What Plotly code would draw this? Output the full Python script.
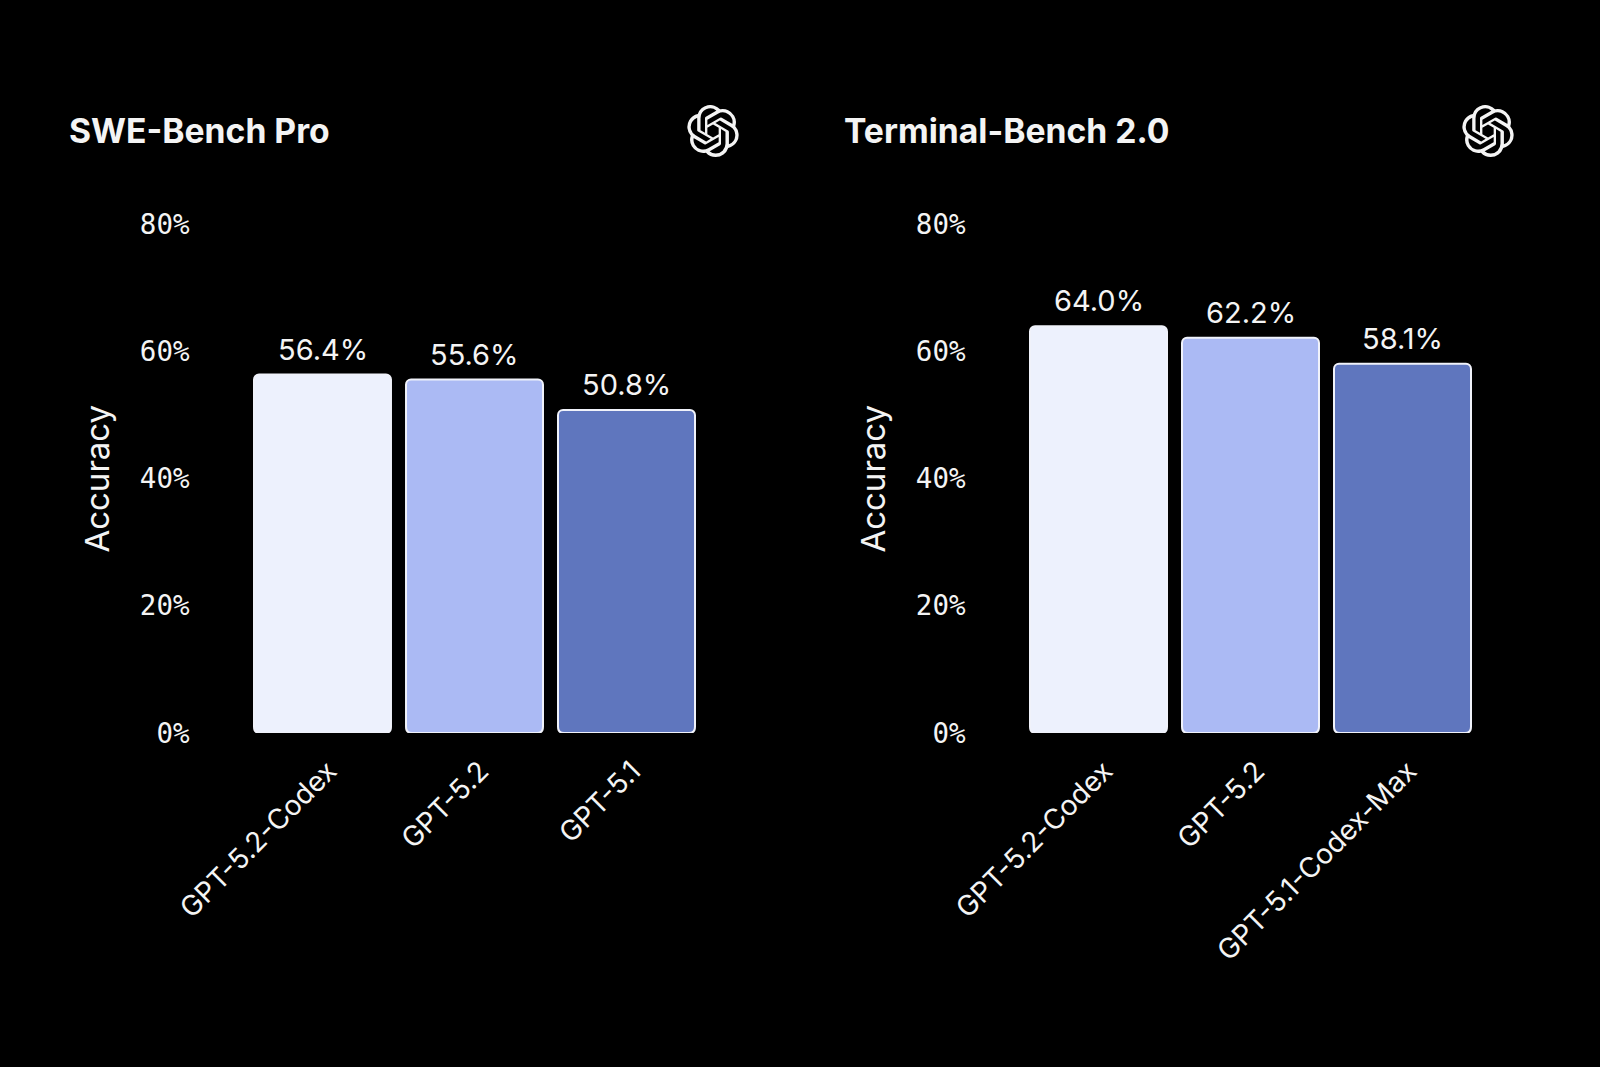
import base64
import plotly.graph_objects as go

# values
swe_models = ["GPT-5.2-Codex", "GPT-5.2", "GPT-5.1"]
swe_accuracy = [56.4, 55.6, 50.8]
term_models = ["GPT-5.2-Codex", "GPT-5.2", "GPT-5.1-Codex-Max"]
term_accuracy = [64.0, 62.2, 58.1]
bar_colors = ["#EDF1FD", "#ABBAF4", "#5F76BE"]
y_ticks = [0, 20, 40, 60, 80]
y_tick_labels = ["0%", "20%", "40%", "60%", "80%"]

W, H = 1600, 1067
TEXT = "#F4F4F4"
EDGE = "#F0F2FA"
GAP = 0.099

# OpenAI logo as inline svg
LOGO = (
    "M22.2819 9.8211a5.9847 5.9847 0 0 0-.5157-4.9108 6.0462 6.0462 0 0 0-6.5098-2.9A6.0651 6.0651 0 0 0 4.9807 4.1818"
    "a5.9847 5.9847 0 0 0-3.9977 2.9 6.0462 6.0462 0 0 0 .7427 7.0966 5.98 5.98 0 0 0 .511 4.9107 6.051 6.051 0 0 0 6.5146 2.9001"
    "A5.9847 5.9847 0 0 0 13.2599 24a6.0557 6.0557 0 0 0 5.7718-4.2058 5.9894 5.9894 0 0 0 3.9977-2.9001 6.0557 6.0557 0 0 0-.7475-7.0729z"
    "m-9.022 12.6081a4.4755 4.4755 0 0 1-2.8764-1.0408l.1419-.0804 4.7783-2.7582a.7948.7948 0 0 0 .3927-.6813v-6.7369l2.02 1.1686"
    "a.071.071 0 0 1 .038.052v5.5826a4.504 4.504 0 0 1-4.4945 4.4944zm-9.6607-4.1254a4.4708 4.4708 0 0 1-.5346-3.0137l.142.0852 4.783 2.7582"
    "a.7712.7712 0 0 0 .7806 0l5.8428-3.3685v2.3324a.0804.0804 0 0 1-.0332.0615L9.74 19.9502a4.4992 4.4992 0 0 1-6.1408-1.6464z"
    "M2.3408 7.8956a4.485 4.485 0 0 1 2.3655-1.9728V11.6a.7664.7664 0 0 0 .3879.6765l5.8144 3.3543-2.0201 1.1685a.0757.0757 0 0 1-.071 0"
    "l-4.8303-2.7865A4.504 4.504 0 0 1 2.3408 7.872zm16.5963 3.8558L13.1038 8.364 15.1192 7.2a.0757.0757 0 0 1 .071 0l4.8303 2.7913"
    "a4.4944 4.4944 0 0 1-.6765 8.1042v-5.6772a.79.79 0 0 0-.407-.667zm2.0107-3.0231l-.142-.0852-4.7735-2.7818a.7759.7759 0 0 0-.7854 0"
    "L9.409 9.2297V6.8974a.0662.0662 0 0 1 .0284-.0615l4.8303-2.7866a4.4992 4.4992 0 0 1 6.6802 4.66zM8.3065 12.863l-2.02-1.1638"
    "a.0804.0804 0 0 1-.038-.0567V6.0742a4.4992 4.4992 0 0 1 7.3757-3.4537l-.142.0805L8.704 5.459a.7948.7948 0 0 0-.3927.6813z"
    "m1.0976-2.3654l2.602-1.4998 2.6069 1.4998v2.9994l-2.5974 1.4997-2.6067-1.4997Z"
)
svg = f'<svg xmlns="http://www.w3.org/2000/svg" viewBox="0 0 24 24"><path fill="#F4F4F4" d="{LOGO}"/></svg>'
logo_uri = "data:image/svg+xml;base64," + base64.b64encode(svg.encode()).decode()

fig = go.Figure()
annotations = []
shapes = []


def add_bars(models, values, xaxis):
    yaxis = xaxis.replace("x", "y")
    fig.add_trace(go.Bar(
        x=models,
        y=values,
        xaxis=xaxis,
        yaxis=yaxis,
        marker=dict(color=bar_colors, line=dict(color=EDGE, width=2), cornerradius=5),
        cliponaxis=False,
        hoverinfo="x+y",
    ))
    for i, (m, v) in enumerate(zip(models, values)):
        # value label above the bar
        annotations.append(dict(
            text=f"{v:.1f}%", x=m, y=v, xref=xaxis, yref=yaxis, yanchor="bottom",
            yshift=6, showarrow=False, font=dict(family="Inter", size=29, color=TEXT),
        ))
        # plotly only rounds the top of a bar, so round the bottom corners by hand
        for side in (-1, 1):
            common = dict(type="path", xref=xaxis, yref=yaxis, xsizemode="pixel", ysizemode="pixel",
                          xanchor=i + side * (1 - GAP) / 2, yanchor=0, layer="above")
            shapes.append(dict(common, path=f"M {side * 2} -2 L {-side * 6} -2 L {-side * 6} 0 Q 0 0 0 6 L {side * 2} 6 Z",
                               fillcolor="#000000", line=dict(width=0)))
            shapes.append(dict(common, path=f"M {-side * 6} 0 Q 0 0 0 6",
                               line=dict(color=EDGE, width=2)))


add_bars(swe_models, swe_accuracy, "x")
add_bars(term_models, term_accuracy, "x2")


def x_axis(left, right):
    return dict(
        domain=[left / W, right / W],
        type="category",
        showgrid=False, zeroline=False, showline=False, ticks="",
        tickangle=-45,
        tickfont=dict(family="Inter", size=28, color=TEXT),
        ticklabelstandoff=15,
        ticklabelshift=6,
        automargin=False,
    )


def y_axis(anchor):
    return dict(
        domain=[(H - 733) / H, (H - 224.5) / H],
        range=[0, 80],
        anchor=anchor,
        tickmode="array",
        tickvals=y_ticks,
        ticktext=y_tick_labels,
        tickfont=dict(family="DejaVu Sans Mono", size=27.5, color=TEXT),
        ticklabelstandoff=56,
        showgrid=False, zeroline=False, showline=False, ticks="",
        title=dict(text="Accuracy", font=dict(family="Inter", size=33, color=TEXT), standoff=20),
        automargin=False,
    )


panels = [("SWE-Bench Pro", 67, 713), ("Terminal-Bench 2.0", 842, 1488)]

annotations += [
    dict(text=f"<b>{t}</b>", x=tx / W, y=(H - 130) / H, xref="paper", yref="paper",
         xanchor="left", yanchor="middle", showarrow=False,
         font=dict(family="Inter", size=33.7, color=TEXT))
    for t, tx, _ in panels
]

fig.update_layout(
    width=W,
    height=H,
    margin=dict(l=0, r=0, t=0, b=0),
    paper_bgcolor="#000000",
    plot_bgcolor="#000000",
    showlegend=False,
    bargap=GAP,
    xaxis=x_axis(246.5, 702.5),
    xaxis2=dict(x_axis(1022.5, 1478.5), anchor="y2"),
    yaxis=y_axis("x"),
    yaxis2=y_axis("x2"),
    annotations=annotations,
    shapes=shapes,
    images=[
        dict(source=logo_uri, xref="paper", yref="paper", x=lx / W, y=(H - 131) / H,
             sizex=52 / W, sizey=52 / H, xanchor="center", yanchor="middle", layer="above")
        for _, _, lx in panels
    ],
)

# page default body margin would leave a white frame
fig.write_html(
    "out.html",
    config={"displayModeBar": False},
    post_script="document.body.style.margin='0';document.body.style.background='#000';",
)
